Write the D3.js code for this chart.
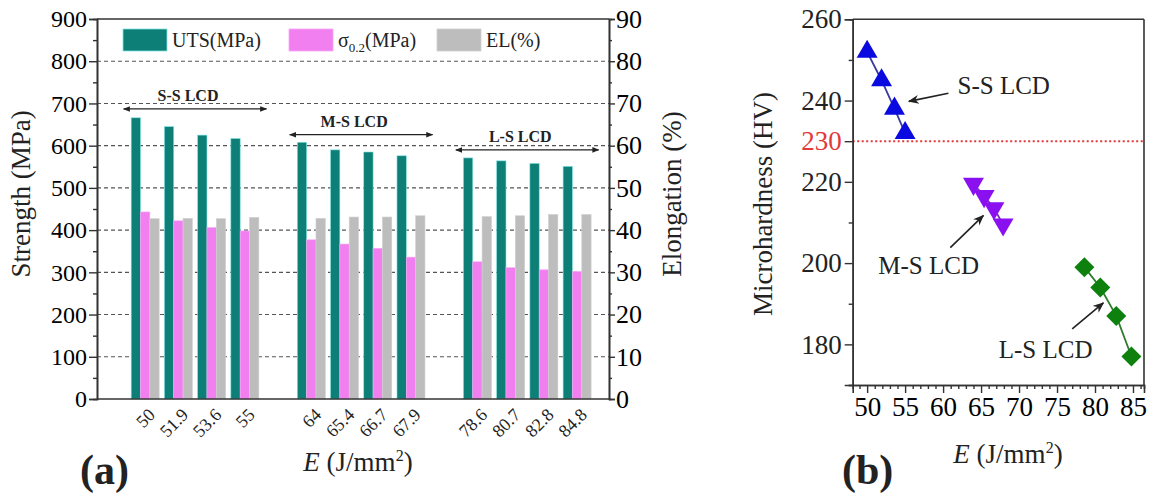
<!DOCTYPE html>
<html>
<head>
<meta charset="utf-8">
<script src="https://cdn.jsdelivr.net/npm/d3@7"></script>
<style>
  body { margin: 0; background: #fff; }
</style>
</head>
<body>
<script>
// ---------------- DATA ----------------
const categories = ["50","51.9","53.6","55","64","65.4","66.7","67.9","78.6","80.7","82.8","84.8"];
const groupOfCategory = [0,0,0,0,1,1,1,1,2,2,2,2];
const groupNames = ["S-S LCD","M-S LCD","L-S LCD"];
const utsValues   = [666,645,625,617,608,590,585,576,571,564,558,551];
const sigmaValues = [443,422,406,398,377,367,357,336,325,311,306,302];
const elValues    = [42.7,42.8,42.7,43.0,42.8,43.1,43.1,43.4,43.2,43.4,43.7,43.7];
const strengthTicks = [0,100,200,300,400,500,600,700,800,900];
const elongTicks = [0,10,20,30,40,50,60,70,80,90];

const ssE = [50,51.9,53.6,55],      ssHV = [252,245,238,232];
const msE = [64,65.4,66.7,67.9],    msHV = [219.5,216.5,213.5,209.5];
const lsE = [78.6,80.7,82.8,84.8],  lsHV = [199,194,187,177];
const hvTicks = [180,200,220,240,260];
const eTicks = [50,55,60,65,70,75,80,85];
const hvLimit = 230;

// ---------------- SETUP ----------------
const FONT = '"Liberation Serif", "Times New Roman", Tinos, serif';
const svg = d3.select("body").append("svg").attr("width",1158).attr("height",496)
  .style("font-family", FONT);
const defs = svg.append("defs");
defs.append("marker").attr("id","ah").attr("viewBox","0 0 10 10").attr("refX",9).attr("refY",5)
  .attr("markerWidth",7).attr("markerHeight",7).attr("orient","auto-start-reverse")
  .attr("markerUnits","userSpaceOnUse")
  .append("path").attr("d","M0,1 L10,5 L0,9 z").attr("fill","#222");
defs.append("marker").attr("id","ahb").attr("viewBox","0 0 10 10").attr("refX",9).attr("refY",5)
  .attr("markerWidth",11).attr("markerHeight",11).attr("orient","auto-start-reverse")
  .attr("markerUnits","userSpaceOnUse")
  .append("path").attr("d","M0,1 L10,5 L0,9 L3,5 z").attr("fill","#222");

// ================= PANEL A =================
const xA = d3.scaleLinear().domain([-1.45, 13.96]).range([97, 609]);
const yA = d3.scaleLinear().domain([0, 900]).range([399, 19]);
const yA2 = d3.scaleLinear().domain([0, 90]).range([399, 19]);
const sub = d3.scaleBand().domain(["uts","sigma","el"]).range([-14, 14]);
const slot = i => i + groupOfCategory[i];
const gA = svg.append("g");

// grid
gA.selectAll("line.grid").data(strengthTicks.filter(v => v > 0 && v < 900)).join("line")
  .attr("x1", xA.range()[0]).attr("x2", xA.range()[1])
  .attr("y1", d => yA(d)).attr("y2", d => yA(d))
  .attr("stroke", "#555").attr("stroke-width", 1.1).attr("stroke-dasharray", "4,3");

// bars
const seriesA = [
  {key:"uts", vals: utsValues, scale: yA, fill:"#0e7f77", stroke:"#7fe3e3"},
  {key:"sigma", vals: sigmaValues, scale: yA, fill:"#f27ff0", stroke:"#f7a8f5"},
  {key:"el", vals: elValues, scale: yA2, fill:"#bdbdbd", stroke:"#d0d0d0"}
];
seriesA.forEach(s => {
  gA.selectAll("rect." + s.key).data(s.vals).join("rect")
    .attr("x", (d,i) => xA(slot(i)) + sub(s.key))
    .attr("width", sub.bandwidth())
    .attr("y", d => s.scale(d))
    .attr("height", d => s.scale(0) - s.scale(d))
    .attr("fill", s.fill).attr("stroke", s.stroke).attr("stroke-width", 0.6);
});

// frame lines
gA.append("line").attr("x1", xA.range()[0]).attr("x2", xA.range()[1]).attr("y1", yA(900)).attr("y2", yA(900)).attr("stroke","#333").attr("stroke-width",1.6);
gA.append("line").attr("x1", xA.range()[0]).attr("x2", xA.range()[1]).attr("y1", yA(0)).attr("y2", yA(0)).attr("stroke","#333").attr("stroke-width",1.6);

// left axis
const axL = gA.append("g").attr("transform", `translate(${xA.range()[0]},0)`)
  .call(d3.axisLeft(yA).tickValues(strengthTicks).tickSize(8).tickPadding(2));
gA.append("g").attr("transform", `translate(${xA.range()[0]},0)`)
  .call(d3.axisLeft(yA).tickValues(d3.range(50, 900, 100)).tickSize(4).tickFormat(""));
// right axis
const axR = gA.append("g").attr("transform", `translate(${xA.range()[1]},0)`)
  .call(d3.axisRight(yA2).tickValues(elongTicks).tickSize(6).tickPadding(1));
gA.append("g").attr("transform", `translate(${xA.range()[1]},0)`)
  .call(d3.axisRight(yA2).tickValues(d3.range(5, 90, 10)).tickSize(3).tickFormat(""));
gA.selectAll(".domain").attr("stroke","#333").attr("stroke-width",1.6);
gA.selectAll(".tick line").attr("stroke","#333").attr("stroke-width",1.4);
axL.selectAll("text").style("font-size","24px");
axR.selectAll("text").style("font-size","26px");

// x category labels
gA.selectAll("text.cat").data(categories).join("text")
  .attr("transform", (d,i) => `translate(${xA(slot(i)) + 11},${416}) rotate(-45)`)
  .attr("text-anchor","end").style("font-size","18px").text(d => d);

// group annotations (double arrows)
const groupArrowY = [687, 626, 590];
groupNames.forEach((name, g) => {
  const c = 4*g + g + 1.5;
  gA.append("line").attr("x1", xA(c - 2.15)).attr("x2", xA(c + 2.15))
    .attr("y1", yA(groupArrowY[g])).attr("y2", yA(groupArrowY[g]))
    .attr("stroke","#222").attr("stroke-width",1.3)
    .attr("marker-start","url(#ah)").attr("marker-end","url(#ah)");
  gA.append("text").attr("x", xA(c) - 7).attr("y", yA(groupArrowY[g]) - 8)
    .attr("text-anchor","middle").style("font-size","16px").style("font-weight","bold").text(name);
});

// legend
const legendItems = [
  {x:123, fill:"#0e7f77", stroke:"#7fe3e3", label:"UTS(MPa)"},
  {x:289, fill:"#f27ff0", stroke:"#f7a8f5", label:"sigma"},
  {x:437, fill:"#bdbdbd", stroke:"#d0d0d0", label:"EL(%)"}
];
legendItems.forEach(it => {
  gA.append("rect").attr("x", it.x).attr("y", 29).attr("width", 44).attr("height", 22)
    .attr("fill", it.fill).attr("stroke", it.stroke).attr("stroke-width", 0.8);
  const t = gA.append("text").attr("x", it.x + 49).attr("y", 47).style("font-size","20px");
  if (it.label === "sigma") {
    t.append("tspan").text("σ");
    t.append("tspan").attr("dy", 5).style("font-size","13px").text("0.2");
    t.append("tspan").attr("dy", -5).text("(MPa)");
  } else t.text(it.label);
});

// axis titles
svg.append("text").attr("transform","translate(30,194) rotate(-90)").attr("text-anchor","middle")
  .style("font-size","27px").text("Strength (MPa)");
svg.append("text").attr("transform","translate(681,194) rotate(-90)").attr("text-anchor","middle")
  .style("font-size","27px").text("Elongation (%)");
const xtA = svg.append("text").attr("x", 358).attr("y", 471).attr("text-anchor","middle").style("font-size","27px");
xtA.append("tspan").style("font-style","italic").text("E");
xtA.append("tspan").text(" (J/mm");
xtA.append("tspan").attr("dy",-10).style("font-size","16px").text("2");
xtA.append("tspan").attr("dy",10).text(")");
svg.append("text").attr("x", 80).attr("y", 484).style("font-size","42px").style("font-weight","bold").text("(a)");

// ================= PANEL B =================
const xB = d3.scaleLinear().domain([48.1, 86.45]).range([852.7, 1144]);
const yB = d3.scaleLinear().domain([170, 260]).range([385, 19.3]);
const gB = svg.append("g");

// limit line
gB.append("line").attr("x1", xB.range()[0]).attr("x2", xB.range()[1])
  .attr("y1", yB(hvLimit)).attr("y2", yB(hvLimit))
  .attr("stroke","#e23a3a").attr("stroke-width",2).attr("stroke-dasharray","2,2.5");

// frame
gB.append("line").attr("x1", xB.range()[0]).attr("x2", xB.range()[1]).attr("y1", yB.range()[1]).attr("y2", yB.range()[1]).attr("stroke","#333").attr("stroke-width",1.6);
gB.append("line").attr("x1", xB.range()[1]).attr("x2", xB.range()[1]).attr("y1", yB.range()[0]).attr("y2", yB.range()[1]).attr("stroke","#333").attr("stroke-width",1.6);

const axB = gB.append("g").attr("transform", `translate(0,${yB.range()[0]})`)
  .call(d3.axisBottom(xB).tickValues(eTicks).tickSize(8).tickPadding(4));
gB.append("g").attr("transform", `translate(0,${yB.range()[0]})`)
  .call(d3.axisBottom(xB).tickValues(d3.range(49, 87, 1).filter(v => v % 5 !== 0)).tickSize(4).tickFormat(""));
const axBL = gB.append("g").attr("transform", `translate(${xB.range()[0]},0)`)
  .call(d3.axisLeft(yB).tickValues(hvTicks.concat([hvLimit])).tickSize(8).tickPadding(3));
gB.append("g").attr("transform", `translate(${xB.range()[0]},0)`)
  .call(d3.axisLeft(yB).tickValues([170,190,210,250]).tickSize(4).tickFormat(""));
gB.selectAll(".domain").attr("stroke","#333").attr("stroke-width",1.6);
gB.selectAll(".tick line").attr("stroke","#333").attr("stroke-width",1.4);
axB.selectAll("text").style("font-size","27px");
axBL.selectAll("text").style("font-size","27px")
  .attr("fill", d => d === hvLimit ? "#e23a3a" : "#222");

// series
const seriesB = [
  {E: ssE, HV: ssHV, fill:"#0a0ae0", line:"#3a3aa0", type: d3.symbolTriangle, size: 190, rot: 0},
  {E: msE, HV: msHV, fill:"#8a10f0", line:"#7a30c0", type: d3.symbolTriangle, size: 190, rot: 180},
  {E: lsE, HV: lsHV, fill:"#0d800d", line:"#2e7d2e", type: d3.symbolSquare, size: 200, rot: 45}
];
const lineGen = d3.line().x(d => xB(d[0])).y(d => yB(d[1]));
seriesB.forEach(s => {
  const pts = s.E.map((e,i) => [e, s.HV[i]]);
  gB.append("path").attr("d", lineGen(pts)).attr("fill","none").attr("stroke", s.line).attr("stroke-width", 1.8);
  gB.selectAll(null).data(pts).join("path")
    .attr("d", d3.symbol().type(s.type).size(s.size))
    .attr("transform", d => `translate(${xB(d[0])},${yB(d[1])}) rotate(${s.rot})`)
    .attr("fill", s.fill);
});

// annotations
const annB = [
  {text:"S-S LCD", tx:61.9, ty:243.8, anchor:"start", ax1:60.7, ay1:241.8, ax2:55.5, ay2:239.8},
  {text:"M-S LCD", tx:58.1, ty:199.4, anchor:"middle", ax1:60.95, ay1:203.8, ax2:65.3, ay2:211.7},
  {text:"L-S LCD", tx:73.5, ty:178.9, anchor:"middle", ax1:77.0, ay1:183.8, ax2:81.1, ay2:190.2}
];
annB.forEach(a => {
  gB.append("line").attr("x1", xB(a.ax1)).attr("y1", yB(a.ay1)).attr("x2", xB(a.ax2)).attr("y2", yB(a.ay2))
    .attr("stroke","#222").attr("stroke-width",1.6).attr("marker-end","url(#ahb)");
  gB.append("text").attr("x", xB(a.tx)).attr("y", yB(a.ty)).attr("dy","0.35em")
    .attr("text-anchor", a.anchor).style("font-size","25px").text(a.text);
});

svg.append("text").attr("transform","translate(772,204) rotate(-90)").attr("text-anchor","middle")
  .style("font-size","27px").text("Microhardness (HV)");
const xtB = svg.append("text").attr("x", 1008).attr("y", 463).attr("text-anchor","middle").style("font-size","27px");
xtB.append("tspan").style("font-style","italic").text("E");
xtB.append("tspan").text(" (J/mm");
xtB.append("tspan").attr("dy",-10).style("font-size","16px").text("2");
xtB.append("tspan").attr("dy",10).text(")");
svg.append("text").attr("x", 842).attr("y", 484).style("font-size","42px").style("font-weight","bold").text("(b)");

// enforce font on every text (axis groups set their own font-family attribute)
svg.selectAll("text").style("font-family", FONT);
svg.selectAll("text").filter(function(){ return !this.getAttribute("fill"); }).attr("fill", "#222");
</script>
</body>
</html>
